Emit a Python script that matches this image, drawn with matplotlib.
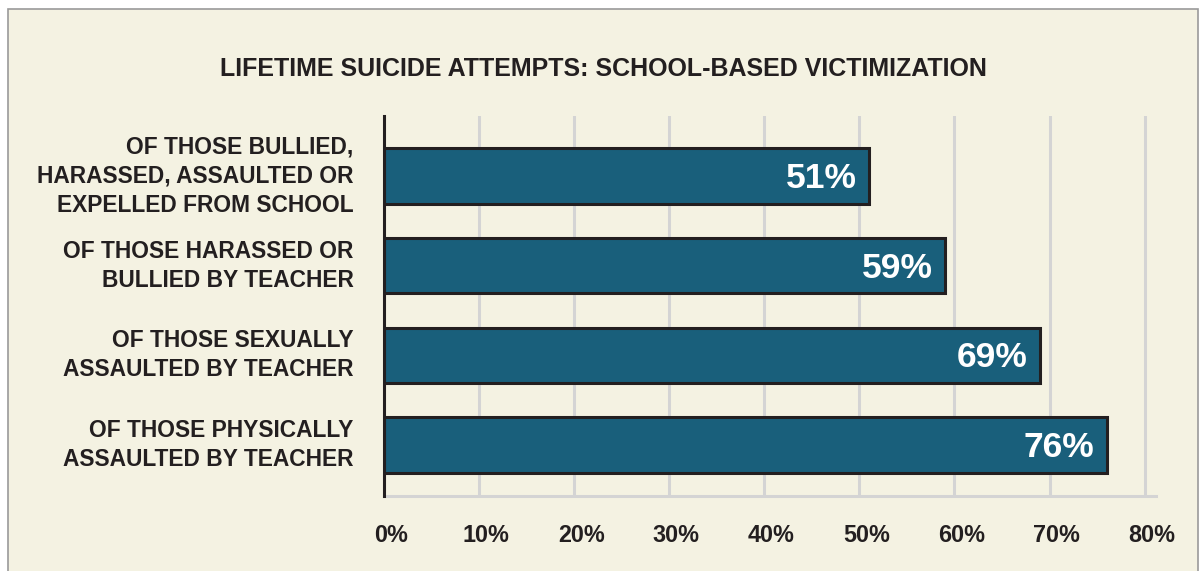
import matplotlib
matplotlib.use("Agg")
from matplotlib import pyplot as plt
from matplotlib import font_manager
import matplotlib.transforms as mtransforms
import numpy as np

# datos del gráfico
categorias = ["OF THOSE BULLIED,\nHARASSED, ASSAULTED OR\nEXPELLED FROM SCHOOL",
              "OF THOSE HARASSED OR\nBULLIED BY TEACHER",
              "OF THOSE SEXUALLY\nASSAULTED BY TEACHER",
              "OF THOSE PHYSICALLY\nASSAULTED BY TEACHER"]
valores = [51, 59, 69, 76]
ticks_x = [0, 10, 20, 30, 40, 50, 60, 70, 80]
titulo = "LIFETIME SUICIDE ATTEMPTS: SCHOOL-BASED VICTIMIZATION"

fondo = "#f4f2e2"
azul = "#195f7b"
tinta = "#231f20"

# fuente estrecha si existe, si no Liberation Sans
nombres = {f.name for f in font_manager.fontManager.ttflist}
if "Liberation Sans Narrow" in nombres:
    narrow = ["Liberation Sans Narrow", "DejaVu Sans"]
    escala = 1.0
else:
    narrow = ["Liberation Sans", "DejaVu Sans"]
    escala = 0.82

fig = plt.figure(figsize=(12.02, 5.71), dpi=100)
fig.patch.set_facecolor("white")
# marco del fondo crema
marco = plt.Rectangle((8 / 1202, -0.05), 1190 / 1202, 1 - 9 / 571 + 0.05,
                      transform=fig.transFigure, facecolor=fondo,
                      edgecolor="#9a9a9a", linewidth=1.2, zorder=-10)
fig.patches.append(marco)

ax = fig.add_axes([384 / 1202, 1 - 496 / 571, (1156 - 384) / 1202, (496 - 116) / 571])
ax.set_facecolor(fondo)

y = np.arange(len(valores))
ax.barh(y, valores, height=0.62, color=azul, edgecolor=tinta, linewidth=2.2, zorder=3)
ax.set_xlim(0, 81.2)
ax.set_ylim(3.57, -0.67)

for yi, v in zip(y, valores):
    ax.text(v - 1.3, yi + 0.03, f"{v}%", ha="right", va="center", color="white",
            fontsize=25.5, fontweight="bold", family=["Liberation Sans", "DejaVu Sans"], zorder=4)

ax.set_yticks(y)
ax.set_yticklabels(categorias, family=narrow, fontweight="bold", fontsize=20 * escala,
                   color=tinta, linespacing=1.1 / escala, va="center")
ax.set_xticks(ticks_x)
ax.set_xticklabels([f"{t}%" for t in ticks_x], family=narrow, fontweight="bold",
                   fontsize=16.8, color=tinta)
ax.tick_params(axis="both", length=0)
ax.tick_params(axis="x", pad=20)
ax.tick_params(axis="y", pad=22)

# etiquetas del eje x un poco a la derecha, como en el original
desplazar = mtransforms.ScaledTranslation(7 / 100, 0, fig.dpi_scale_trans)
for lbl in ax.get_xticklabels():
    lbl.set_transform(lbl.get_transform() + desplazar)

ax.grid(axis="x", color="#d4d4d4", linewidth=2.2, zorder=1)
for lado in ["top", "right"]:
    ax.spines[lado].set_visible(False)
ax.spines["left"].set_color(tinta)
ax.spines["left"].set_linewidth(2.2)
ax.spines["left"].set_zorder(5)
ax.spines["bottom"].set_color("#d4d4d4")
ax.spines["bottom"].set_linewidth(2.2)

fig.text(603 / 1202, 1 - 69 / 571, titulo, ha="center", va="center", family=narrow,
         fontweight="bold", fontsize=18.0, color=tinta)

plt.savefig("out.png", dpi=100, facecolor=fig.get_facecolor())
